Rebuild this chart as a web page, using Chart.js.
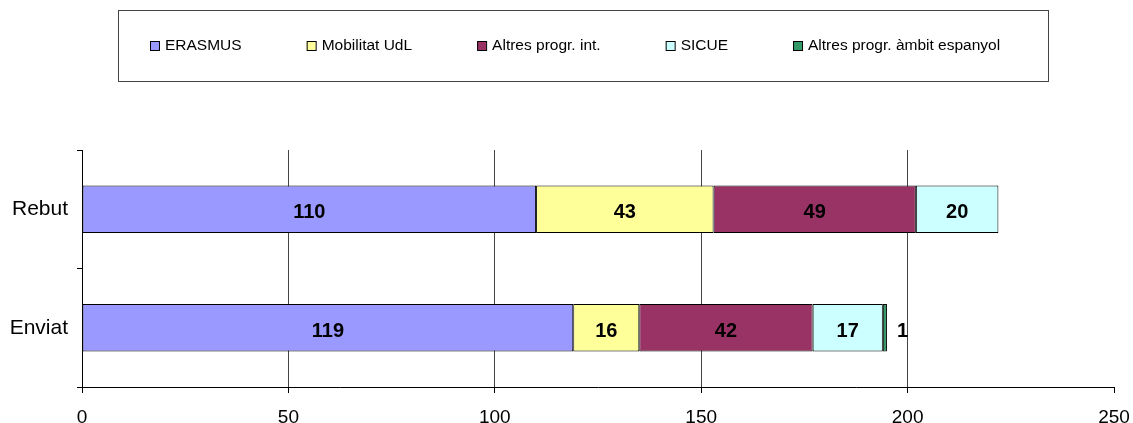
<!DOCTYPE html>
<html>
<head>
<meta charset="utf-8">
<script src="https://cdn.jsdelivr.net/npm/chart.js@4.4.1/dist/chart.umd.min.js"></script>
<style>
  html, body { margin: 0; padding: 0; background: #fff; }
  #wrap { width: 1133px; height: 423px; position: relative; }
</style>
</head>
<body>
<div id="wrap"><canvas id="c" width="1133" height="423"></canvas></div>
<script>
const categories = ['Rebut', 'Enviat'];
const seriesNames = ['ERASMUS', 'Mobilitat UdL', 'Altres progr. int.', 'SICUE', 'Altres progr. àmbit espanyol'];
const erasmus = [110, 119];
const mobilitatUdL = [43, 16];
const altresInt = [49, 42];
const sicue = [20, 17];
const altresEsp = [0, 1];
const xTickValues = [0, 50, 100, 150, 200, 250];
const seriesColors = ['#9999FF', '#FFFF99', '#993366', '#CCFFFF', '#339966'];

const FONT = "'Liberation Sans', Arial, sans-serif";
const seriesValues = [erasmus, mobilitatUdL, altresInt, sicue, altresEsp];

const datasets = seriesValues.map((vals, i) => ({
  label: seriesNames[i],
  data: vals,
  backgroundColor: seriesColors[i],
  borderColor: '#000',
  borderWidth: 1,
  borderSkipped: false,
  categoryPercentage: 1.0,
  barPercentage: 0.4
}));

const boxLegend = {
  id: 'boxLegend',
  afterDraw(chart) {
    const ctx = chart.ctx;
    ctx.save();
    ctx.strokeStyle = '#444';
    ctx.lineWidth = 1;
    ctx.strokeRect(118.5, 10.5, 930, 71);
    ctx.font = '15.5px ' + FONT;
    ctx.textBaseline = 'middle';
    ctx.textAlign = 'left';
    let x = 150;
    const cy = 45.5;
    chart.data.datasets.forEach((ds) => {
      ctx.fillStyle = ds.backgroundColor;
      ctx.fillRect(x, cy - 4.5, 9, 9);
      ctx.strokeStyle = '#000';
      ctx.strokeRect(x + 0.5, cy - 4.5 + 0.5, 9, 9);
      ctx.fillStyle = '#000';
      ctx.fillText(ds.label, x + 15, cy);
      x += 15 + ctx.measureText(ds.label).width + 65;
    });
    ctx.restore();
  }
};

const barLabels = {
  id: 'barLabels',
  afterDatasetsDraw(chart) {
    const ctx = chart.ctx;
    ctx.save();
    ctx.font = 'bold 20px ' + FONT;
    ctx.fillStyle = '#000';
    ctx.textBaseline = 'alphabetic';
    chart.data.datasets.forEach((ds, i) => {
      const meta = chart.getDatasetMeta(i);
      meta.data.forEach((bar, j) => {
        const v = ds.data[j];
        if (!v) return;
        const txt = String(v);
        const tw = ctx.measureText(txt).width;
        const w = Math.abs(bar.x - bar.base);
        const y = bar.y + 9;
        if (tw + 8 < w) {
          ctx.textAlign = 'center';
          ctx.fillText(txt, (bar.x + bar.base) / 2, y);
        } else {
          ctx.textAlign = 'left';
          ctx.fillText(txt, Math.max(bar.x, bar.base) + 10, y);
        }
      });
    });
    ctx.restore();
  }
};

new Chart(document.getElementById('c'), {
  type: 'bar',
  data: { labels: categories, datasets },
  options: {
    indexAxis: 'y',
    responsive: false,
    animation: false,
    events: [],
    layout: { padding: { top: 150, right: 19, bottom: 0, left: 0 } },
    plugins: { legend: { display: false }, tooltip: { enabled: false } },
    scales: {
      x: {
        stacked: true,
        min: 0,
        max: 250,
        afterBuildTicks(scale) { scale.ticks = xTickValues.map(v => ({ value: v })); },
        afterFit(scale) { scale.height = 36; scale.paddingLeft = 0; scale.paddingRight = 0; },
        ticks: { color: '#000', font: { family: FONT, size: 19 }, padding: 13, maxRotation: 0 },
        grid: {
          color: (c) => (c.tick && c.tick.value === 250) ? 'rgba(0,0,0,0)' : '#444',
          tickColor: '#000',
          tickLength: 6,
          lineWidth: 1
        },
        border: { display: true, color: '#000', width: 1 }
      },
      y: {
        stacked: true,
        afterFit(scale) { scale.width = 82; scale.paddingTop = 0; scale.paddingBottom = 0; },
        ticks: { color: '#000', font: { family: FONT, size: 21 }, padding: 9 },
        grid: {
          drawOnChartArea: false,
          offset: true,
          tickLength: 5,
          tickColor: '#000',
          color: '#000'
        },
        border: { display: true, color: '#000', width: 1 }
      }
    }
  },
  plugins: [boxLegend, barLabels]
});
</script>
</body>
</html>
